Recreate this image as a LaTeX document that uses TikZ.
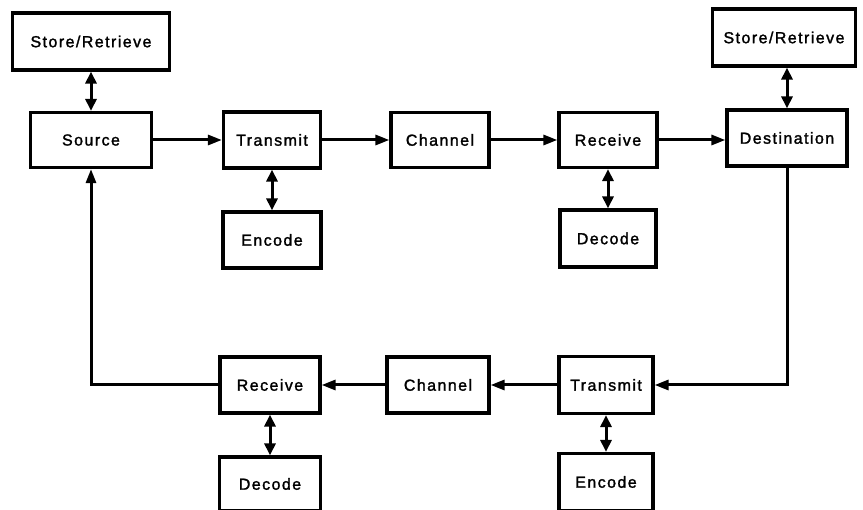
\documentclass[tikz,border=0pt]{standalone}
\usepackage{fontspec}
\setmainfont{Liberation Sans}[LetterSpace=9, FakeBold=1.6]
\usetikzlibrary{arrows.meta}
\begin{document}
\begin{tikzpicture}[x=1pt,y=-1pt,
  blk/.style={draw=black, line width=3.2pt, fill=white, inner sep=0pt,
    font=\fontsize{16}{18}\selectfont},
  flow/.style={line width=3pt, -{Triangle[length=14pt,width=10pt]}},
  both/.style={line width=3pt, {Triangle[length=12pt,width=11pt]}-{Triangle[length=12pt,width=11pt]}},
  plain/.style={line width=3pt}]
\useasboundingbox (0,0) rectangle (863,510);
% upper chain
\node[blk, minimum width=157pt, minimum height=57pt] (sr1) at (91,41.5) {Store/Retrieve};
\node[blk, minimum width=121pt, minimum height=55pt] (src) at (91,140) {Source};
\node[blk, minimum width=97pt, minimum height=56pt] (tx1) at (272,140) {Transmit};
\node[blk, minimum width=98pt, minimum height=55pt] (ch1) at (440,140) {Channel};
\node[blk, minimum width=98pt, minimum height=55pt] (rx1) at (608,140) {Receive};
\node[blk, minimum width=120pt, minimum height=56pt] (dst) at (787,138) {Destination};
\node[blk, minimum width=143pt, minimum height=57pt] (sr2) at (784,37.5) {Store/Retrieve};
\node[blk, minimum width=98pt, minimum height=56pt] (enc1) at (272,240) {Encode};
\node[blk, minimum width=96pt, minimum height=57pt] (dec1) at (608,238.5) {Decode};
% lower chain
\node[blk, minimum width=100pt, minimum height=56pt] (rx2) at (270,385) {Receive};
\node[blk, minimum width=102pt, minimum height=56pt] (ch2) at (438,385) {Channel};
\node[blk, minimum width=94pt, minimum height=57pt] (tx2) at (606,385) {Transmit};
\node[blk, minimum width=101pt, minimum height=54pt] (dec2) at (270,484) {Decode};
\node[blk, minimum width=94pt, minimum height=57pt] (enc2) at (606,482) {Encode};
% forward path
\draw[flow] (src) -- (tx1);
\draw[flow] (tx1) -- (ch1);
\draw[flow] (ch1) -- (rx1);
\draw[flow] (rx1.east) -- (dst.west |- rx1.east);
% storage and coding links
\draw[both] (sr1.south) -- (sr1.south |- src.north);
\draw[both] (sr2.south -| dst.north) -- (dst.north);
\draw[both] (tx1) -- (enc1);
\draw[both] (rx1) -- (dec1);
\draw[both] (rx2) -- (dec2);
\draw[both] (tx2) -- (enc2);
% return path
\draw[flow] (dst.south) |- (tx2.east);
\draw[flow] (tx2) -- (ch2);
\draw[flow] (ch2) -- (rx2);
\draw[flow] (rx2.west) -| (src.south);
\end{tikzpicture}
\end{document}
